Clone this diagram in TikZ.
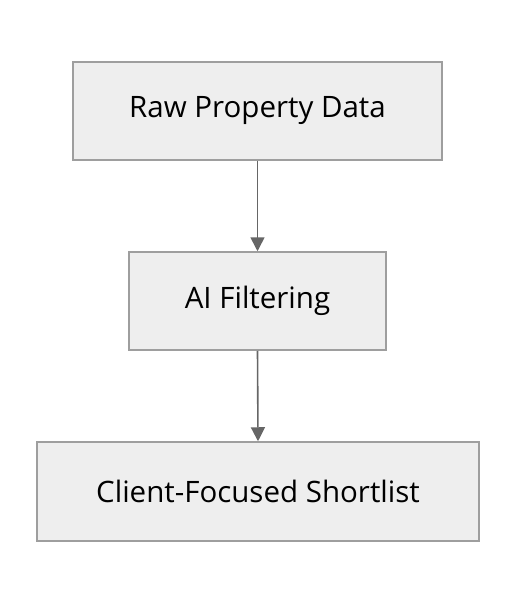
\documentclass[tikz,border=0pt]{standalone}
\usepackage{fontspec}
\setmainfont{Open Sans}
\usetikzlibrary{arrows.meta}
\definecolor{boxfill}{HTML}{EEEEEE}
\definecolor{boxline}{HTML}{9E9E9E}
\definecolor{arrowcol}{HTML}{666666}
\begin{document}
\begin{tikzpicture}[x=1pt,y=-1pt,
  stepbox/.style={draw=boxline,fill=boxfill,line width=1.5pt,inner sep=0pt,font=\fontsize{29.5}{34}\selectfont},
  conn/.style={draw=arrowcol,line width=1.6pt,-{Triangle[width=14pt,length=14pt]}}]
\useasboundingbox (0,0) rectangle (516,604);
\node[stepbox,minimum width=369pt,minimum height=98pt] (a) at (257.5,111) {Raw Property Data};
\node[stepbox,minimum width=257pt,minimum height=98pt] (b) at (257.5,301) {AI Filtering};
\node[stepbox,minimum width=442pt,minimum height=99pt] (c) at (258,491.5) {Client-Focused Shortlist};
\draw[conn] (a.south) -- (b.north);
\draw[conn] (b.south) -- (c.north);
\end{tikzpicture}
\end{document}
